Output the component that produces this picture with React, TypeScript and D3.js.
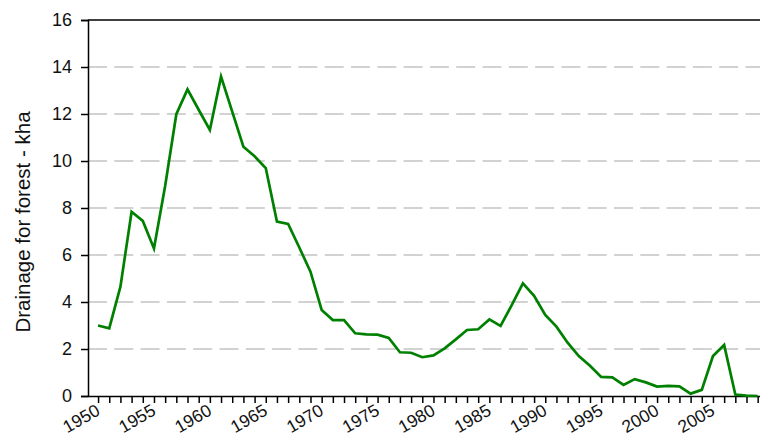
import React, { useEffect, useRef } from "react";
import * as d3 from "d3";

const years: number[] = d3.range(1950, 2010);
const drainage: number[] = [
  3.0, 2.88, 4.65, 7.84, 7.45, 6.28, 8.94, 11.99, 13.05, 12.18,
  11.32, 13.59, 12.1, 10.61, 10.2, 9.7, 7.42, 7.32, 6.32, 5.29,
  3.66, 3.23, 3.23, 2.67, 2.62, 2.61, 2.47, 1.86, 1.84, 1.65,
  1.73, 2.03, 2.41, 2.81, 2.84, 3.26, 2.98, 3.87, 4.79, 4.26,
  3.45, 2.95, 2.27, 1.7, 1.29, 0.81, 0.79, 0.47, 0.72, 0.58,
  0.4, 0.43, 0.41, 0.1, 0.26, 1.7, 2.17, 0.06, 0.02, 0.0,
];
const yTicks: number[] = [0, 2, 4, 6, 8, 10, 12, 14, 16];
const xLabelYears: number[] = [1950, 1955, 1960, 1965, 1970, 1975, 1980, 1985, 1990, 1995, 2000, 2005];

const FONT = "'Liberation Sans', Arial, sans-serif";

const App = () => {
  const ref = useRef<SVGSVGElement>(null);

  useEffect(() => {
    document.body.style.margin = "0";
    const svg = d3.select(ref.current);
    svg.selectAll("*").remove();

    const left = 88;
    const top = 20;
    const bottom = 396;
    const step = 11.18;

    const x = d3
      .scaleLinear()
      .domain([1949.1, 2010.1])
      .range([left, left + 61 * step]);
    const y = d3.scaleLinear().domain([0, 16]).range([bottom, top]);

    // dashed gridlines
    svg
      .append("g")
      .selectAll("line")
      .data(yTicks.filter((d) => d > 0 && d < 16))
      .join("line")
      .attr("x1", left)
      .attr("x2", 760)
      .attr("y1", (d) => y(d))
      .attr("y2", (d) => y(d))
      .style("stroke", "#c4c4c4")
      .style("stroke-width", 1.5)
      .style("stroke-dasharray", "19,7.3");

    // top border
    svg
      .append("line")
      .attr("x1", left)
      .attr("x2", 760)
      .attr("y1", y(16))
      .attr("y2", y(16))
      .style("stroke", "black")
      .style("stroke-width", 1.5);

    // y axis
    const yAxis = svg
      .append("g")
      .attr("transform", `translate(${left},0)`)
      .call(d3.axisLeft(y).tickValues(yTicks).tickSize(7).tickPadding(9));
    yAxis.select(".domain").attr("stroke", "black").attr("stroke-width", 1.5);
    yAxis.selectAll(".tick line").attr("stroke", "black").attr("stroke-width", 1.5);
    yAxis
      .selectAll(".tick text")
      .attr("font-family", FONT)
      .attr("font-size", 18)
      .attr("fill", "#111");

    // x axis
    const xAxis = svg
      .append("g")
      .attr("transform", `translate(0,${bottom})`)
      .call(
        d3
          .axisBottom(x)
          .tickValues(years)
          .tickSize(7)
          .tickSizeOuter(0)
          .tickFormat(() => "")
      );
    xAxis.select(".domain").attr("stroke", "black").attr("stroke-width", 1.5);
    xAxis.selectAll(".tick line").attr("stroke", "black").attr("stroke-width", 1.5);

    svg
      .append("g")
      .selectAll("text")
      .data(xLabelYears)
      .join("text")
      .attr("transform", (d) => `translate(${x(d) + 3},${bottom + 18}) rotate(-30)`)
      .attr("text-anchor", "end")
      .attr("font-family", FONT)
      .attr("font-size", 17.5)
      .attr("fill", "#111")
      .text((d) => d);

    // y title
    svg
      .append("text")
      .attr("transform", `translate(30,${(top + bottom) / 2 + 14}) rotate(-90)`)
      .attr("text-anchor", "middle")
      .attr("font-family", FONT)
      .attr("font-size", 20.5)
      .attr("fill", "#111")
      .text("Drainage for forest - kha");

    // line
    const line = d3
      .line<number>()
      .x((d, i) => x(years[i]))
      .y((d) => y(d));

    svg
      .append("path")
      .datum(drainage)
      .attr("d", line)
      .style("fill", "none")
      .style("stroke", "#008000")
      .style("stroke-width", 2.7)
      .style("stroke-linejoin", "miter");
  }, []);

  return <svg ref={ref} width={760} height={439} style={{ display: "block" }} />;
};

export default App;
